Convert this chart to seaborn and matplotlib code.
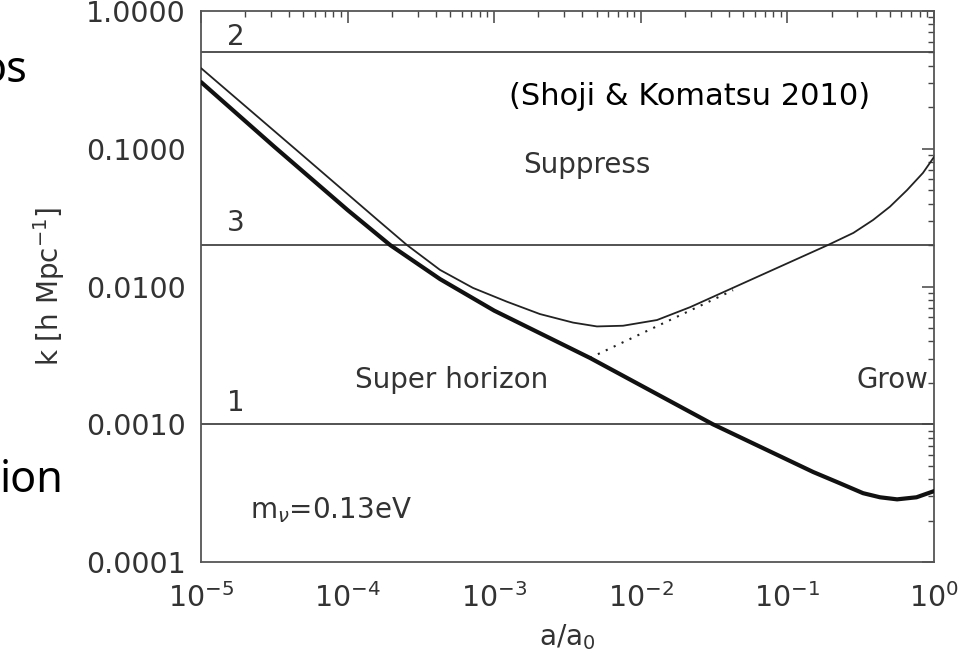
import numpy as np
import pandas as pd
import matplotlib
matplotlib.use("Agg")
import matplotlib.pyplot as plt
import seaborn as sns
from matplotlib.ticker import LogLocator, NullFormatter

# ---------------- data ----------------
thick_a = [1e-5, 3.16e-5, 1e-4, 1.95e-4, 4.27e-4, 1e-3, 4.5e-3, 0.031,
           0.150, 0.224, 0.328, 0.428, 0.56, 0.76, 1.0]
thick_k = [0.305, 0.1035, 0.0359, 0.0200, 0.01132, 6.68e-3, 3.03e-3, 1.0e-3,
           4.50e-4, 3.76e-4, 3.16e-4, 2.95e-4, 2.85e-4, 2.95e-4, 3.27e-4]

thin_a = [1e-5, 4.73e-5, 1.58e-4, 2.54e-4, 4.27e-4, 7.16e-4, 1.22e-3, 2.05e-3, 3.45e-3,
          5.02e-3, 7.57e-3, 0.0129, 0.0217, 0.062, 0.189, 0.282, 0.384, 0.501, 0.655,
          0.841, 1.0]
thin_k = [0.385, 0.0931, 0.0308, 0.0200, 0.0132, 9.77e-3, 7.76e-3, 6.31e-3, 5.47e-3,
          5.13e-3, 5.19e-3, 5.71e-3, 7.08e-3, 0.01172, 0.0200, 0.0245, 0.0304, 0.0380,
          0.0501, 0.0668, 0.0871]

dot_a = [4.5e-3, 0.0426]
dot_k = [3.03e-3, 9.4e-3]

hline_k = [0.5, 0.02, 0.001]
hline_labels = ["2", "3", "1"]

ytick_vals = [1e-4, 1e-3, 1e-2, 1e-1, 1.0]
ytick_labels = ["0.0001", "0.0010", "0.0100", "0.1000", "1.0000"]
xtick_vals = [1e-5, 1e-4, 1e-3, 1e-2, 1e-1, 1.0]
xtick_labels = [r"$10^{-5}$", r"$10^{-4}$", r"$10^{-3}$", r"$10^{-2}$", r"$10^{-1}$", r"$10^{0}$"]

# ---------------- style ----------------
sns.set_theme(style="white")
plt.rcParams["font.family"] = ["DejaVu Sans"]
plt.rcParams["mathtext.fontset"] = "dejavusans"

fig = plt.figure(figsize=(9.71, 6.64), dpi=100)
W, H = 971, 664
ax = fig.add_axes([201 / W, 1 - 562 / H, 733 / W, 551 / H])

thick = pd.DataFrame({"a": thick_a, "k": thick_k})
thin = pd.DataFrame({"a": thin_a, "k": thin_k})
dots = pd.DataFrame({"a": dot_a, "k": dot_k})

for kval in hline_k:
    ax.axhline(kval, color="#444444", lw=1.3, zorder=1)

sns.lineplot(data=thin, x="a", y="k", ax=ax, color="#222222", lw=1.3,
             sort=False, estimator=None, zorder=3)
sns.lineplot(data=thick, x="a", y="k", ax=ax, color="#111111", lw=3.0,
             sort=False, estimator=None, zorder=4)
sns.lineplot(data=dots, x="a", y="k", ax=ax, color="#222222", lw=1.5,
             linestyle=(0, (1, 3.2)), sort=False, estimator=None, zorder=2)

ax.set_xscale("log")
ax.set_yscale("log")
ax.set_xlim(1e-5, 1.0)
ax.set_ylim(1e-4, 1.0)

ax.set_yticks(ytick_vals)
ax.set_yticklabels(ytick_labels)
ax.set_xticks(xtick_vals)
ax.set_xticklabels(xtick_labels)
ax.yaxis.set_minor_locator(LogLocator(base=10, subs=np.arange(2, 10), numticks=20))
ax.xaxis.set_minor_locator(LogLocator(base=10, subs=np.arange(2, 10), numticks=20))
ax.yaxis.set_minor_formatter(NullFormatter())
ax.xaxis.set_minor_formatter(NullFormatter())

ax.tick_params(which="both", direction="in", top=True, right=True,
               color="#444444", labelcolor="#333333", labelsize=20.5)
ax.tick_params(which="major", length=8.6, width=1.1)
ax.tick_params(which="minor", length=4.3, width=1.0)
ax.tick_params(axis="y", pad=11)
ax.tick_params(axis="x", pad=15)

for sp in ax.spines.values():
    sp.set_visible(True)
    sp.set_color("#555555")
    sp.set_linewidth(1.3)

ax.set_xlabel(r"a/a$_{\mathregular{0}}$", fontsize=20, color="#333333", labelpad=7)
ax.set_ylabel(r"k [h Mpc$^{\mathregular{-1}}$]", fontsize=20, color="#333333", labelpad=14)

# line labels
for lab, yf in zip(hline_labels, [0.953, 0.615, 0.289]):
    ax.text(0.048, yf, lab, transform=ax.transAxes, ha="center", va="center",
            fontsize=20, color="#333333")

ax.text(0.527, 0.720, "Suppress", transform=ax.transAxes, ha="center", va="center",
        fontsize=20, color="#333333")
ax.text(0.342, 0.330, "Super horizon", transform=ax.transAxes, ha="center", va="center",
        fontsize=20, color="#333333")
ax.text(0.943, 0.330, "Grow", transform=ax.transAxes, ha="center", va="center",
        fontsize=20, color="#333333")
ax.text(0.067, 0.080, r"m$_{\nu}$=0.13eV", transform=ax.transAxes, ha="left",
        va="baseline", fontsize=20, color="#333333")
ax.text(0.913, 0.844, "(Shoji & Komatsu 2010)", transform=ax.transAxes, ha="right",
        va="center", fontsize=22, color="black")

# fragments of slide text cut at the left edge (as in the reference)
fig.text(27 / W, 1 - 82 / H, "os", ha="right", va="baseline", fontsize=31,
         color="black", family=["Noto Sans", "DejaVu Sans"])
fig.text(63 / W, 1 - 492 / H, "ion", ha="right", va="baseline", fontsize=31,
         color="black", family=["Noto Sans", "DejaVu Sans"])

fig.savefig("out.png", dpi=100)
